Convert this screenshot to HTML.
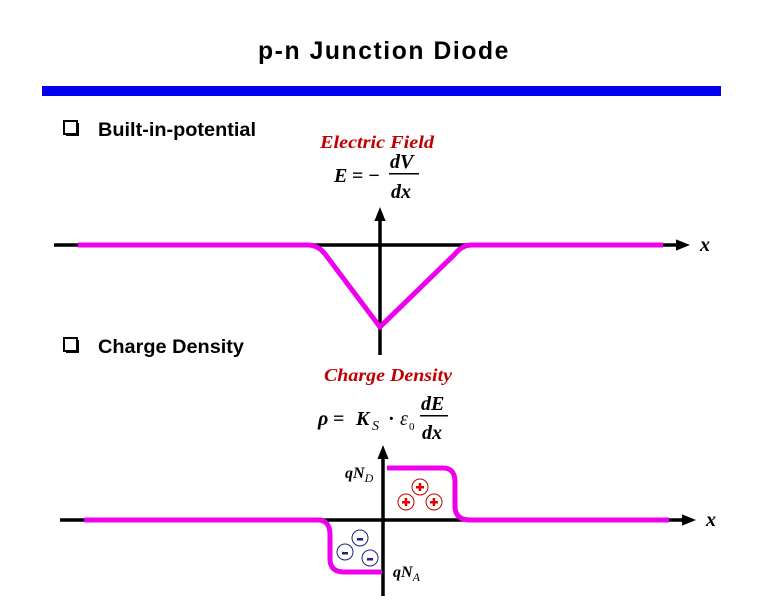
<!DOCTYPE html>
<html><head><meta charset="utf-8"><style>
html,body{margin:0;padding:0;background:#fff;width:762px;height:600px;overflow:hidden}
</style></head><body>
<svg width="762" height="600" xmlns="http://www.w3.org/2000/svg">
<defs>
<marker id="ar" markerWidth="4" markerHeight="4" refX="2" refY="2" orient="auto" markerUnits="strokeWidth"><path d="M0,0.4 L4,2 L0,3.6 z" fill="#000"/></marker>
</defs>
<text x="384" y="59" text-anchor="middle" font-family="Liberation Sans, sans-serif" font-weight="bold" font-size="25" letter-spacing="1.6" textLength="252" lengthAdjust="spacingAndGlyphs">p-n Junction Diode</text>
<rect x="42" y="86" width="679" height="10" fill="#0000ee"/>
<g font-family="Liberation Sans, sans-serif" font-weight="bold" font-size="19">
<rect x="64" y="121" width="13" height="13" fill="none" stroke="#000" stroke-width="2"/><rect x="66" y="134" width="12" height="2" fill="#000"/><rect x="77" y="123" width="2" height="13" fill="#000"/>
<text x="98" y="136" textLength="158" lengthAdjust="spacingAndGlyphs">Built-in-potential</text>
<rect x="64" y="338" width="13" height="13" fill="none" stroke="#000" stroke-width="2"/><rect x="66" y="351" width="12" height="2" fill="#000"/><rect x="77" y="340" width="2" height="13" fill="#000"/>
<text x="98" y="353" textLength="146" lengthAdjust="spacingAndGlyphs">Charge Density</text>
</g>
<g font-family="Liberation Serif, serif" font-style="italic" font-weight="bold" fill="#c00000" font-size="18">
<text x="320" y="148" textLength="114" lengthAdjust="spacingAndGlyphs">Electric Field</text>
<text x="324" y="381" textLength="128" lengthAdjust="spacingAndGlyphs">Charge Density</text>
</g>
<g font-family="Liberation Serif, serif" font-style="italic" font-weight="bold" font-size="20">
<text x="334" y="182">E</text><text x="352" y="182" font-style="normal">= −</text>
<text x="390" y="168">dV</text><rect x="389" y="173" width="30" height="1.5" fill="#000"/><text x="391" y="198">dx</text>
<text x="318" y="425">ρ</text><text x="333" y="425" font-style="normal">=</text><text x="356" y="425">K</text><text x="372" y="430" font-size="14" font-weight="normal">S</text><text x="388" y="425" font-style="normal">·</text><text x="400" y="425" font-weight="normal">ε</text><text x="409" y="430" font-size="11" font-style="normal" font-weight="normal">0</text>
<text x="421" y="410">dE</text><rect x="420" y="415" width="28" height="1.5" fill="#000"/><text x="422" y="439">dx</text>
<text x="700" y="251">x</text><text x="706" y="526">x</text>
<text x="345" y="478" font-size="16">qN<tspan font-size="12" font-weight="normal" dy="4">D</tspan></text>
<text x="393" y="577" font-size="16">qN<tspan font-size="12" font-weight="normal" dy="4">A</tspan></text>
</g>
<line x1="54" y1="245" x2="683" y2="245" stroke="#000" stroke-width="3.5" marker-end="url(#ar)"/>
<line x1="380" y1="355" x2="380" y2="214" stroke="#000" stroke-width="3.5" marker-end="url(#ar)"/>
<path d="M78,245 L308,245 Q318,245 325,254 L380,327 L455,254 Q462,245 472,245 L663,245" fill="none" stroke="#ee00ee" stroke-width="5" stroke-linejoin="round"/>
<line x1="60" y1="520" x2="689" y2="520" stroke="#000" stroke-width="3.5" marker-end="url(#ar)"/>
<line x1="383" y1="596" x2="383" y2="452" stroke="#000" stroke-width="3.5" marker-end="url(#ar)"/>
<path d="M84,520 L318,520 Q330,520 330,535 L330,559 Q330,572 344,572 L382,572" fill="none" stroke="#ee00ee" stroke-width="5"/>
<path d="M387,468 L443,468 Q455,468 455,482 L455,506 Q455,520 470,520 L669,520" fill="none" stroke="#ee00ee" stroke-width="5"/>
<g fill="none" stroke="#c00000" stroke-width="1">
<circle cx="420" cy="487" r="8"/><circle cx="406" cy="502" r="8"/><circle cx="434" cy="502" r="8"/>
</g>
<g fill="#e00000">
<rect x="416" y="486" width="8" height="2.5"/><rect x="418.7" y="483" width="2.5" height="8"/>
<rect x="402" y="501" width="8" height="2.5"/><rect x="404.7" y="498" width="2.5" height="8"/>
<rect x="430" y="501" width="8" height="2.5"/><rect x="432.7" y="498" width="2.5" height="8"/>
</g>
<g fill="none" stroke="#202080" stroke-width="1">
<circle cx="360" cy="538" r="8"/><circle cx="345" cy="552" r="8"/><circle cx="370" cy="558" r="8"/>
</g>
<g fill="#202080">
<rect x="357" y="538" width="6" height="2.5"/><rect x="342" y="552" width="6" height="2.5"/><rect x="367" y="558" width="6" height="2.5"/>
</g>
</svg>
</body></html>
